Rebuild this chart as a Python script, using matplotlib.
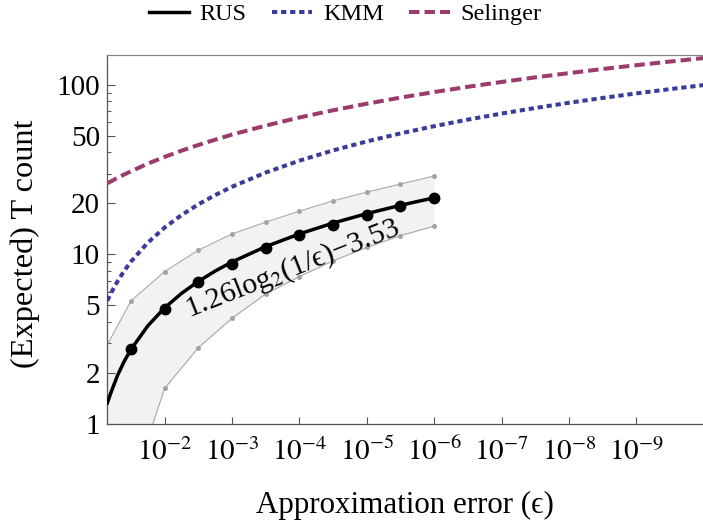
import numpy as np
import matplotlib
matplotlib.use('Agg')
import matplotlib.pyplot as plt
from matplotlib.ticker import FixedLocator, FuncFormatter, NullLocator, NullFormatter
from matplotlib.lines import Line2D

plt.rcParams['font.family'] = ['Liberation Serif', 'DejaVu Serif']
plt.rcParams['mathtext.fontset'] = 'stix'

# ---------------- data ----------------
# exponents of epsilon (eps = 10**exp)
curve_exp = [-1.15, -1.2, -1.3, -1.4, -1.5, -1.75, -2.0, -2.25, -2.5, -2.75, -3.0,
             -3.5, -4.0, -4.5, -5.0, -5.5, -6.0, -6.5, -7.0, -7.5, -8.0, -8.5,
             -9.0, -9.5, -10.0]
selinger = [26.3, 26.9, 28.3, 29.6, 30.9, 34.3, 37.6, 40.9, 44.2, 47.5, 50.9,
            57.5, 64.2, 70.8, 77.4, 84.1, 90.7, 97.4, 104.0, 110.7, 117.3, 124.0,
            130.6, 137.2, 143.9]
kmm = [5.33, 5.87, 6.93, 8.00, 9.07, 11.73, 14.40, 17.06, 19.73, 22.39, 25.06,
       30.39, 35.72, 41.06, 46.39, 51.72, 57.05, 62.38, 67.71, 73.04, 78.38, 83.71,
       89.04, 94.37, 99.70]
# RUS fit line (covers curve_exp down to 1e-6)
rus_fit = [1.33, 1.52, 1.93, 2.34, 2.75, 3.79, 4.84, 5.89, 6.93, 7.98, 9.03,
           11.12, 13.21, 15.31, 17.40, 19.49, 21.58]

point_exp = [-1.5, -2.0, -2.5, -3.0, -3.5, -4.0, -4.5, -5.0, -5.5, -6.0]
rus_mean = [2.78, 4.75, 6.85, 8.8, 10.9, 13.0, 15.0, 17.1, 19.4, 21.6]

band_exp = [-1.0, -1.5, -2.0, -2.5, -3.0, -3.5, -4.0, -4.5, -5.0, -5.5, -6.0]
band_hi = [2.27, 5.32, 7.92, 10.6, 13.2, 15.5, 18.0, 20.7, 23.3, 26.0, 29.0]
band_lo = [0.10, 0.41, 1.62, 2.82, 4.20, 5.85, 7.40, 9.16, 11.0, 12.9, 14.7]

fit_label = "1.26log$_2$(1/ϵ)\u22123.53"
x_tick_exp = [-2, -3, -4, -5, -6, -7, -8, -9]
y_ticks = [1, 2, 5, 10, 20, 50, 100]
y_minor = [3, 4, 6, 7, 8, 9, 30, 40, 60, 70, 80, 90]
series_labels = ['RUS', 'KMM', 'Selinger']

# ---------------- figure ----------------
W, H = 703, 521
fig = plt.figure(figsize=(W / 100, H / 100), dpi=100)
ax = fig.add_axes([107 / W, 97 / H, 596 / W, 369 / H])
ax.set_xscale('log')
ax.set_yscale('log')

curve_eps = [10.0 ** e for e in curve_exp]
point_eps = [10.0 ** e for e in point_exp]
band_eps = [10.0 ** e for e in band_exp]

ax.fill_between(band_eps, band_lo, band_hi, color='#f2f2f2', lw=0, zorder=1)
for b in (band_hi, band_lo):
    ax.plot(band_eps, b, color='#a8a8a8', lw=0.8, marker='o', ms=3.6,
            mfc='#a3a3a3', mec='none', zorder=2)

c_sel = '#9c3b6d'
c_kmm = '#3b3b9c'
ax.plot(curve_eps, selinger, color=c_sel, lw=2.9, dashes=(2.6, 1.25),
        zorder=3)
ax.plot(curve_eps, kmm, color=c_kmm, lw=2.9, dashes=(1.3, 0.95), zorder=3)
ax.plot(curve_eps[:len(rus_fit)], rus_fit, color='black', lw=2.5, zorder=4)
ax.plot(point_eps, rus_mean, 'o', color='black', ms=7.5, zorder=5)

ax.text(10 ** -3.89, 8.25, fit_label, rotation=21.5, rotation_mode='anchor',
        ha='center', va='center', fontsize=21.5, zorder=6)

ax.set_xlim(10 ** -1.145, 10 ** -9.99)
ax.set_ylim(1, 150)

ax.xaxis.set_major_locator(FixedLocator([10.0 ** k for k in x_tick_exp]))
ax.xaxis.set_major_formatter(FuncFormatter(
    lambda v, p: r'$10^{%d}$' % int(round(np.log10(v)))))
ax.xaxis.set_minor_locator(NullLocator())
ax.yaxis.set_major_locator(FixedLocator(y_ticks))
ax.yaxis.set_major_formatter(FuncFormatter(lambda v, p: '%d' % round(v)))
ax.yaxis.set_minor_locator(FixedLocator(y_minor))
ax.yaxis.set_minor_formatter(NullFormatter())

sp_col = '#555555'
ax.tick_params(axis='both', which='both', direction='in', color=sp_col,
               width=0.8, labelsize=21)
ax.tick_params(axis='y', which='major', length=6, pad=5)
ax.tick_params(axis='y', which='minor', length=3)
ax.tick_params(axis='x', which='major', length=5, pad=10)
for s in ('left', 'bottom', 'top'):
    ax.spines[s].set_color(sp_col)
    ax.spines[s].set_linewidth(0.9)
ax.spines['top'].set_color('#888888')
ax.spines['right'].set_visible(False)

fig.text(405 / W, 1 - 513 / H, 'Approximation error (ϵ)', fontsize=22.3,
         ha='center', va='baseline')
fig.text(33.5 / W, 1 - 244 / H, '(Expected) T count', fontsize=23.3,
         rotation=90, rotation_mode='anchor', ha='center', va='baseline')

handles = [Line2D([], [], color='black', lw=2.5),
           Line2D([], [], color=c_kmm, lw=2.9, dashes=(1.3, 0.95)),
           Line2D([], [], color=c_sel, lw=2.9, dashes=(2.6, 1.25))]
fig.legend(handles, series_labels, loc='center', bbox_to_anchor=(345 / W, 1 - 14 / H),
           ncol=3, frameon=False, fontsize=17.5, handlelength=1.65,
           handletextpad=0.45, columnspacing=1.05, borderaxespad=0, borderpad=0)

fig.savefig('out.png', dpi=100)
